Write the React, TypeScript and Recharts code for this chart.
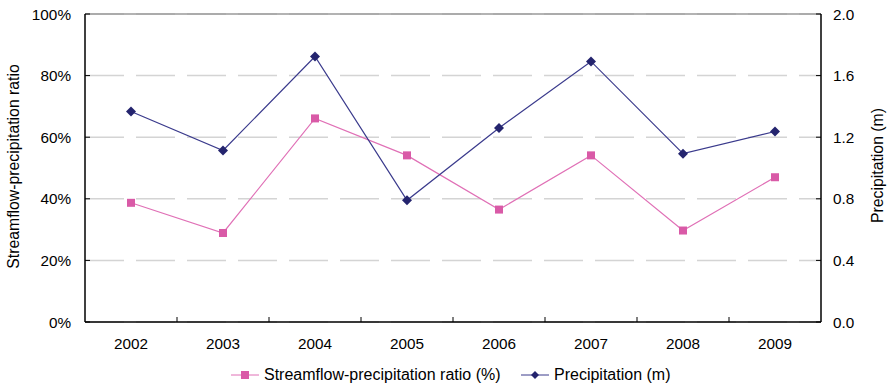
import React from 'react';
import { LineChart, Line, XAxis, YAxis, CartesianGrid, Legend, ReferenceLine, Label } from 'recharts';

const years = ['2002', '2003', '2004', '2005', '2006', '2007', '2008', '2009'];
const ratioPct = [38.7, 28.9, 66.1, 54.1, 36.5, 54.1, 29.7, 47.0];
const precipM = [1.367, 1.114, 1.724, 0.79, 1.26, 1.692, 1.093, 1.237];
const leftTicks = [0, 20, 40, 60, 80, 100];
const rightTicks = [0, 0.4, 0.8, 1.2, 1.6, 2.0];
const ratioName = 'Streamflow-precipitation ratio (%)';
const precipName = 'Precipitation (m)';
const leftTitle = 'Streamflow-precipitation ratio';
const rightTitle = 'Precipitation (m)';

const data = years.map((year, i) => ({ year, ratio: ratioPct[i], precip: precipM[i] }));

const W = 889;
const H = 389;
const LEFT_W = 85;
const RIGHT_W = 68;
const PLOT_W = W - LEFT_W - RIGHT_W;
const HALF_BAND = PLOT_W / years.length / 2;
const FONT = '"Liberation Sans", Arial, sans-serif';
const TICK_FS = 15.3;
const TITLE_FS = 15.8;
const PINK = '#D95AA7';
const PINK_LINE = '#E070B6';
const NAVY = '#24246E';
const NAVY_LINE = '#3A3A8C';

const LeftTick = (p: any) => {
  const { x, y, payload } = p;
  return (
    <g>
      <line x1={x} x2={x + 5} y1={y} y2={y} stroke="#000" strokeWidth={1} />
      <text x={x - 14} y={y} dy="0.36em" textAnchor="end" fontSize={TICK_FS} fill="#000" fontFamily={FONT}>
        {payload.value}%
      </text>
    </g>
  );
};

const RightTick = (p: any) => {
  const { x, y, payload } = p;
  return (
    <g>
      <line x1={x - 5} x2={x} y1={y} y2={y} stroke="#000" strokeWidth={1} />
      <text x={x + 12} y={y} dy="0.36em" textAnchor="start" fontSize={TICK_FS} fill="#000" fontFamily={FONT}>
        {Number(payload.value).toFixed(1)}
      </text>
    </g>
  );
};

const BottomTick = (p: any) => {
  const { x, y, payload, index } = p;
  return (
    <g>
      {index > 0 && (
        <line x1={x - HALF_BAND} x2={x - HALF_BAND} y1={y - 5} y2={y} stroke="#000" strokeWidth={1} />
      )}
      <text x={x} y={y + 21} dy="0.36em" textAnchor="middle" fontSize={TICK_FS} fill="#000" fontFamily={FONT}>
        {payload.value}
      </text>
    </g>
  );
};

const SquareDot = (p: any) => {
  const { cx, cy, key } = p;
  if (cx == null || cy == null) return <g key={key} />;
  return <rect key={key} x={cx - 4} y={cy - 4} width={8} height={8} fill={PINK} />;
};

const DiamondDot = (p: any) => {
  const { cx, cy, key } = p;
  if (cx == null || cy == null) return <g key={key} />;
  const r = 5;
  return (
    <polygon
      key={key}
      points={`${cx},${cy - r} ${cx + r},${cy} ${cx},${cy + r} ${cx - r},${cy}`}
      fill={NAVY}
    />
  );
};

const LeftTitle = () => {
  const cx = 13;
  const cy = 166.5;
  return (
    <text x={cx} y={cy} transform={`rotate(-90 ${cx} ${cy})`} textAnchor="middle" dy="0.36em" fontSize={TITLE_FS} fill="#000" fontFamily={FONT}>
      {leftTitle}
    </text>
  );
};

const RightTitle = () => {
  const cx = 877;
  const cy = 165.5;
  return (
    <text x={cx} y={cy} transform={`rotate(-90 ${cx} ${cy})`} textAnchor="middle" dy="0.36em" fontSize={TITLE_FS} fill="#000" fontFamily={FONT}>
      {rightTitle}
    </text>
  );
};

const LegendContent = () => (
  <div style={{ position: 'relative', height: 22, width: W, fontFamily: FONT, fontSize: 16, color: '#000' }}>
    <div style={{ position: 'absolute', left: 231, top: 0, height: 22, display: 'flex', alignItems: 'center', whiteSpace: 'nowrap' }}>
      <svg width={28} height={22} style={{ display: 'block' }}>
        <line x1={0} x2={28} y1={11} y2={11} stroke={PINK_LINE} strokeWidth={1} />
        <rect x={10} y={7} width={8} height={8} fill={PINK} />
      </svg>
      <span style={{ marginLeft: 5, lineHeight: '22px' }}>{ratioName}</span>
    </div>
    <div style={{ position: 'absolute', left: 521, top: 0, height: 22, display: 'flex', alignItems: 'center', whiteSpace: 'nowrap' }}>
      <svg width={28} height={22} style={{ display: 'block' }}>
        <line x1={0} x2={28} y1={11} y2={11} stroke={NAVY_LINE} strokeWidth={1} />
        <polygon points="14,7 18,11 14,15 10,11" fill={NAVY} />
      </svg>
      <span style={{ marginLeft: 5, lineHeight: '22px' }}>{precipName}</span>
    </div>
  </div>
);

export default function App() {
  return (
    <div style={{ position: 'absolute', left: 0, top: 0, width: W, height: H, background: '#fff' }}>
      <LineChart width={W} height={H} data={data} margin={{ top: 14, right: 0, left: 0, bottom: 15 }}>
        <CartesianGrid yAxisId="left" vertical={false} stroke="#D4D4D4" strokeWidth={1.5} strokeDasharray="39 12" />
        <XAxis
          dataKey="year"
          height={30}
          padding={{ left: HALF_BAND, right: HALF_BAND }}
          axisLine={{ stroke: '#000', strokeWidth: 1.5 }}
          tickLine={false}
          tickSize={0}
          tickMargin={0}
          tick={<BottomTick />}
          interval={0}
        />
        <YAxis
          yAxisId="left"
          orientation="left"
          width={LEFT_W}
          domain={[0, 100]}
          ticks={leftTicks}
          interval={0}
          axisLine={{ stroke: '#000', strokeWidth: 1.5 }}
          tickLine={false}
          tickSize={0}
          tickMargin={0}
          tick={<LeftTick />}
        >
          <Label content={<LeftTitle />} />
        </YAxis>
        <YAxis
          yAxisId="right"
          orientation="right"
          width={RIGHT_W}
          domain={[0, 2]}
          ticks={rightTicks}
          interval={0}
          axisLine={{ stroke: '#000', strokeWidth: 1.5 }}
          tickLine={false}
          tickSize={0}
          tickMargin={0}
          tick={<RightTick />}
        >
          <Label content={<RightTitle />} />
        </YAxis>
        <ReferenceLine yAxisId="left" y={100} stroke="#9A9A9A" strokeWidth={1.5} />
        <Legend verticalAlign="bottom" content={<LegendContent />} wrapperStyle={{ left: 0, top: 364, width: W, height: 22 }} />
        <Line
          yAxisId="left"
          type="linear"
          dataKey="ratio"
          name={ratioName}
          stroke={PINK_LINE}
          strokeWidth={1.2}
          dot={<SquareDot />}
          activeDot={false}
          isAnimationActive={false}
        />
        <Line
          yAxisId="right"
          type="linear"
          dataKey="precip"
          name={precipName}
          stroke={NAVY_LINE}
          strokeWidth={1.2}
          dot={<DiamondDot />}
          activeDot={false}
          isAnimationActive={false}
        />
      </LineChart>
    </div>
  );
}
